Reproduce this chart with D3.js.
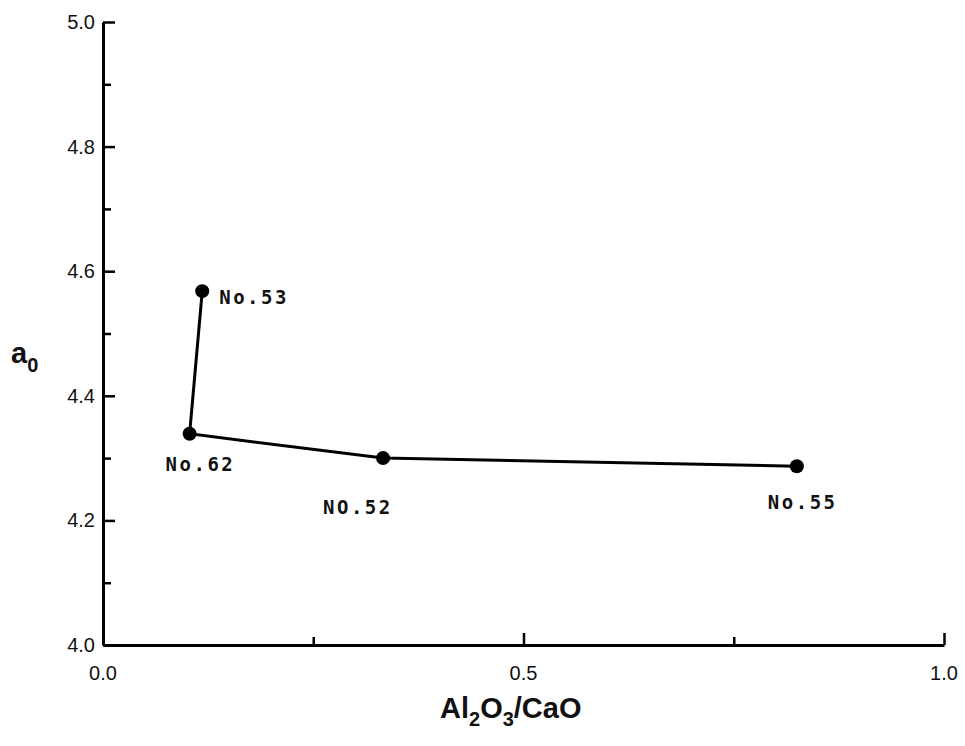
<!DOCTYPE html>
<html>
<head>
<meta charset="utf-8">
<script src="https://cdn.jsdelivr.net/npm/d3@7"></script>
<style>
    body { margin: 0; background: #fff; }
    svg { display: block; }
    .tick-label { font-family: "Liberation Sans", Arial, sans-serif; font-size: 20px; fill: #111; }
    .pt-label { font-family: "DejaVu Sans Mono", monospace; font-size: 19px; font-weight: bold; letter-spacing: 2.5px; fill: #111; }
    .axis-title { font-family: "Liberation Sans", Arial, sans-serif; font-size: 29px; font-weight: bold; fill: #111; }
</style>
</head>
<body>
<div class="container"></div>
<script>
var SVG_WIDTH = 965;
var SVG_HEIGHT = 746;

// data
var sampleNames = ["No.53", "No.62", "NO.52", "No.55"];
var ratioValues = [0.118, 0.103, 0.333, 0.825];
var a0Values = [4.568, 4.339, 4.300, 4.287];
var xTickLabels = ["0.0", "0.5", "1.0"];
var yTickLabels = ["4.0", "4.2", "4.4", "4.6", "4.8", "5.0"];

// label offsets relative to each point
var labelDx = [17, -24, -60, -29];
var labelDy = [13, 37, 56, 43];

var svg = d3.select(".container")
    .append("svg")
    .attr("width", SVG_WIDTH)
    .attr("height", SVG_HEIGHT);

var x = d3.scaleLinear().domain([0, 1]).range([103, 944]);
var y = d3.scaleLinear().domain([4, 5]).range([645, 22]);

// y axis, ticks point inward
var yAxis = d3.axisRight(y)
    .tickValues(d3.range(4, 5.001, 0.1))
    .tickSize(0)
    .tickFormat("");
svg.append("g")
    .attr("transform", "translate(" + x(0) + ",0)")
    .call(yAxis)
    .call(function (g) {
        g.select(".domain").attr("stroke", "#000").attr("stroke-width", 3);
        g.selectAll(".tick line")
            .attr("stroke", "#000")
            .attr("stroke-width", 2.5)
            .attr("x2", function (d, i) { return i % 2 === 0 ? 12 : 8; });
    });

svg.append("g")
    .selectAll("text")
    .data(yTickLabels)
    .enter()
    .append("text")
    .attr("class", "tick-label")
    .attr("text-anchor", "end")
    .attr("x", x(0) - 8)
    .attr("y", function (d) { return y(+d) + 7; })
    .text(function (d) { return d; });

// x axis
var xAxis = d3.axisTop(x)
    .tickValues([0, 0.25, 0.5, 0.75, 1])
    .tickSize(0)
    .tickFormat("");
svg.append("g")
    .attr("transform", "translate(0," + y(4) + ")")
    .call(xAxis)
    .call(function (g) {
        g.select(".domain").attr("stroke", "#000").attr("stroke-width", 3);
        g.selectAll(".tick line")
            .attr("stroke", "#000")
            .attr("stroke-width", 2.5)
            .attr("y2", function (d, i) { return i % 2 === 0 ? -12 : -8; });
    });

svg.append("g")
    .selectAll("text")
    .data(xTickLabels)
    .enter()
    .append("text")
    .attr("class", "tick-label")
    .attr("text-anchor", "middle")
    .attr("x", function (d) { return x(+d); })
    .attr("y", y(4) + 35)
    .text(function (d) { return d; });

// data line and points
var points = sampleNames.map(function (name, i) {
    return { name: name, x: ratioValues[i], y: a0Values[i], dx: labelDx[i], dy: labelDy[i] };
});

var line = d3.line()
    .x(function (d) { return x(d.x); })
    .y(function (d) { return y(d.y); });

svg.append("path")
    .datum(points)
    .attr("d", line)
    .attr("fill", "none")
    .attr("stroke", "#000")
    .attr("stroke-width", 3);

svg.append("g")
    .selectAll("circle")
    .data(points)
    .enter()
    .append("circle")
    .attr("cx", function (d) { return x(d.x); })
    .attr("cy", function (d) { return y(d.y); })
    .attr("r", 7)
    .attr("fill", "#000");

svg.append("g")
    .selectAll("text")
    .data(points)
    .enter()
    .append("text")
    .attr("class", "pt-label")
    .attr("x", function (d) { return x(d.x) + d.dx; })
    .attr("y", function (d) { return y(d.y) + d.dy; })
    .text(function (d) { return d.name; });

// axis titles
var xt = svg.append("text")
    .attr("class", "axis-title")
    .attr("x", 440)
    .attr("y", 718);
xt.append("tspan").text("Al");
xt.append("tspan").attr("font-size", 20).attr("dy", 8).text("2");
xt.append("tspan").attr("dy", -8).text("O");
xt.append("tspan").attr("font-size", 20).attr("dy", 8).text("3");
xt.append("tspan").attr("dy", -8).text("/CaO");

var yt = svg.append("text")
    .attr("class", "axis-title")
    .attr("x", 11)
    .attr("y", 363);
yt.append("tspan").text("a");
yt.append("tspan").attr("font-size", 20).attr("dy", 9).text("0");
</script>
</body>
</html>
